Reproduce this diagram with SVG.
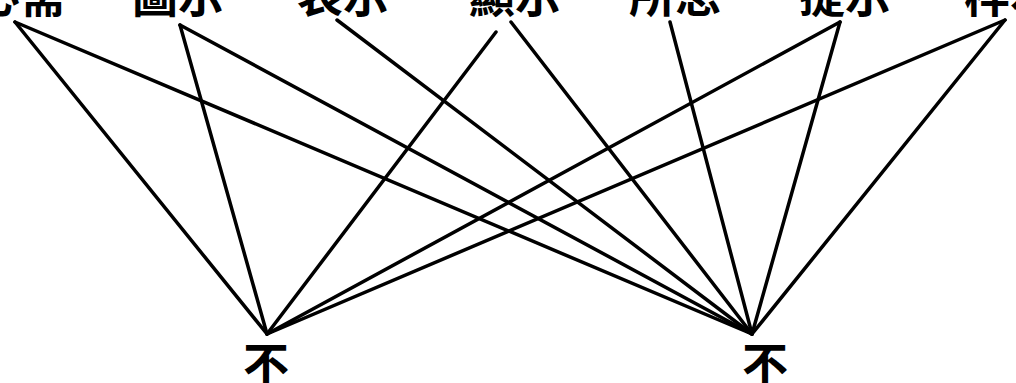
<svg xmlns="http://www.w3.org/2000/svg" width="1016" height="383" viewBox="0 0 1016 383">
<style>
.lbl{font-family:"Noto Sans CJK SC","Noto Sans CJK TC",sans-serif;font-weight:bold;font-size:46px;fill:#000;text-anchor:middle}
.c line{stroke:#000;stroke-width:3.5;stroke-linecap:round}
</style>
<rect width="1016" height="383" fill="#fff"/>
<g id="t1"><text class="lbl" x="20" y="12">必需</text></g>
<g id="t2"><text class="lbl" x="178" y="12">圖示</text></g>
<g id="t3"><text class="lbl" x="343" y="12">表示</text></g>
<g id="t4"><text class="lbl" x="515" y="12">顯示</text></g>
<g id="t5"><text class="lbl" x="675" y="12">所思</text></g>
<g id="t6"><text class="lbl" x="845" y="12">提示</text></g>
<g id="t7"><text class="lbl" x="1010" y="12">样本</text></g>
<g id="b1"><text class="lbl" x="266" y="381">不</text></g>
<g id="b2"><text class="lbl" x="765" y="381">不</text></g>
<g class="c" id="connectors">
<line x1="15" y1="22" x2="267" y2="334"/>
<line x1="15" y1="22" x2="752" y2="334"/>
<line x1="180" y1="25" x2="267" y2="334"/>
<line x1="180" y1="25" x2="752" y2="334"/>
<line x1="337" y1="20" x2="752" y2="334"/>
<line x1="496" y1="32" x2="267" y2="334"/>
<line x1="511" y1="22" x2="752" y2="334"/>
<line x1="670" y1="22" x2="752" y2="334"/>
<line x1="840" y1="22" x2="267" y2="334"/>
<line x1="840" y1="22" x2="752" y2="334"/>
<line x1="1005" y1="20" x2="267" y2="334"/>
<line x1="1005" y1="20" x2="752" y2="334"/>
</g>
</svg>
